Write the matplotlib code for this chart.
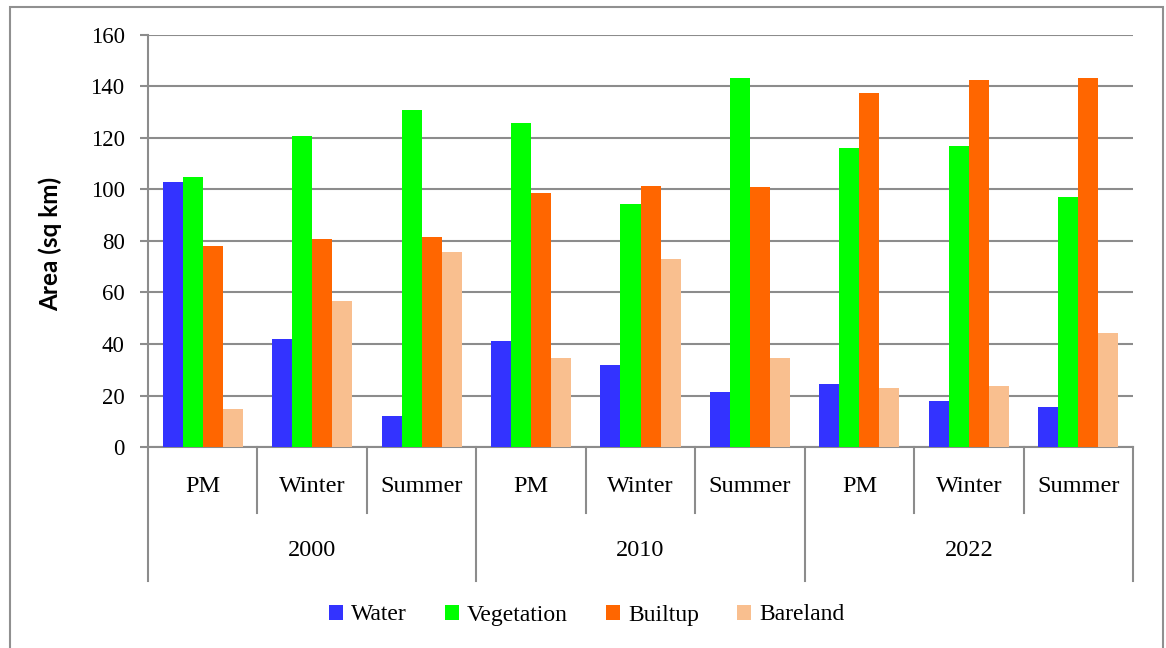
import numpy as np
import matplotlib
matplotlib.use("Agg")
import matplotlib.pyplot as plt
from matplotlib.patches import Rectangle

years = ["2000", "2010", "2022"]
seasons = ["PM", "Winter", "Summer"]
series = ["Water", "Vegetation", "Builtup", "Bareland"]

water = [103, 42, 12, 41.2, 31.7, 21.5, 24.3, 17.7, 15.5]
vegetation = [105, 120.7, 131, 125.8, 94.2, 143.3, 116.2, 116.9, 97.2]
builtup = [78, 80.9, 81.7, 98.6, 101.5, 100.8, 137.5, 142.6, 143.3]
bareland = [14.8, 56.7, 75.8, 34.5, 72.9, 34.5, 22.9, 23.5, 44.2]

colors = ["#3333ff", "#00ff00", "#ff6600", "#f9bf8f"]
grid_col = "#8c8c8c"
serif = "Liberation Serif"
plt.rcParams["font.family"] = [serif, "DejaVu Serif"]

fig = plt.figure(figsize=(11.66, 6.48), dpi=100)
ax = fig.add_axes([148 / 1166, (648 - 447) / 648, 985 / 1166, 412 / 648])

# outer frame of the picture
fig.patches.append(Rectangle((10 / 1166, -0.02), 1153 / 1166, (648 - 7) / 648 + 0.02,
                             transform=fig.transFigure, fill=False,
                             edgecolor="#909090", linewidth=1.5))

n = len(water)
x = np.arange(n)
w = 0.183
for i, (vals, c, lab) in enumerate(zip([water, vegetation, builtup, bareland], colors, series)):
    ax.bar(x + (i - 1.5) * w, vals, w, color=c, label=lab, zorder=3, linewidth=0)

ax.set_xlim(-0.5, n - 0.5)
ax.set_ylim(0, 160)
ax.set_yticks(np.arange(0, 161, 20))
ax.yaxis.grid(True, color=grid_col, linewidth=1.5, zorder=0)
ax.tick_params(axis="y", length=5.8, width=1.5, color=grid_col, pad=11, labelsize=16.5)
ax.set_xticks([])
for s in ["top", "right", "left"]:
    ax.spines[s].set_visible(False)
ax.spines["bottom"].set_color(grid_col)
ax.spines["bottom"].set_linewidth(1.5)

ax.set_ylabel("Area (sq km)", fontfamily="Lato", fontweight="bold", fontsize=17.5)
ax.yaxis.set_label_coords(-0.087, 0.493)

# two-level category axis
tr = ax.get_xaxis_transform()
ax.plot([-0.5, -0.5], [-0.325, 1], color=grid_col, lw=1.5, transform=tr, clip_on=False)
for k in range(1, n + 1):
    if k % 3 == 0:
        ax.plot([k - 0.5, k - 0.5], [0, -0.325], color=grid_col, lw=1.5, transform=tr, clip_on=False)
    else:
        ax.plot([k - 0.5, k - 0.5], [0, -0.16], color=grid_col, lw=1.5, transform=tr, clip_on=False)
for k in range(n):
    ax.text(k, -0.095, seasons[k % 3], transform=tr, ha="center", va="center", fontsize=17.5)
for j, yr in enumerate(years):
    ax.text(3 * j + 1, -0.252, yr, transform=tr, ha="center", va="center", fontsize=17.5)

fig.legend(loc="center", bbox_to_anchor=(0.503, 1 - 615 / 648), ncol=4, frameon=False,
           prop={"size": 17}, handlelength=0.6, handleheight=0.6,
           handletextpad=0.35, columnspacing=1.6)

fig.savefig("out.png", dpi=100)
